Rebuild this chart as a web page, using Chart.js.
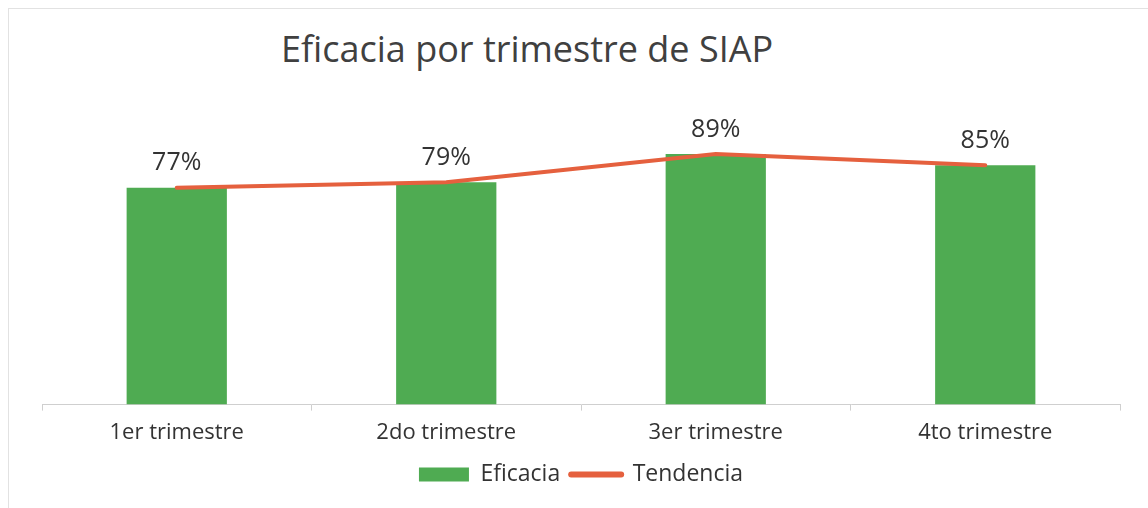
<!DOCTYPE html>
<html>
<head>
<meta charset="utf-8">
<script src="https://cdn.jsdelivr.net/npm/chart.js@4.4.1/dist/chart.umd.min.js"></script>
<style>
  html, body { margin: 0; padding: 0; background: #fff; }
  #wrap { position: relative; width: 1148px; height: 508px; overflow: hidden; }
  #frame { position: absolute; left: 8px; top: 8px; right: -4px; bottom: -4px; border: 1px solid #e2e2e2; }
  #title { position: absolute; left: 281px; top: 24px; font-family: 'Open Sans', sans-serif; font-size: 36px; color: #404040; white-space: nowrap; }
  canvas { position: absolute; left: 0; top: 0; }
</style>
</head>
<body>
<div id="wrap">
  <div id="frame"></div>
  <div id="title">Eficacia por trimestre de SIAP</div>
  <canvas id="chart" width="1148" height="508"></canvas>
</div>
<script>
// data
const quarters = ['1er trimestre', '2do trimestre', '3er trimestre', '4to trimestre'];
const eficacia = [77, 79, 89, 85];
const tendencia = [77, 79, 89, 85];

const green = '#4fab52';
const red = '#e5603e';

// value labels above the bars
const barLabels = {
  id: 'barLabels',
  afterDatasetsDraw(chart) {
    const ctx = chart.ctx;
    const meta = chart.getDatasetMeta(0);
    ctx.save();
    ctx.font = '25px "Open Sans", sans-serif';
    ctx.fillStyle = '#333';
    ctx.textAlign = 'center';
    ctx.textBaseline = 'bottom';
    meta.data.forEach((bar, i) => {
      ctx.fillText(eficacia[i] + '%', bar.x, bar.y - 12);
    });
    ctx.restore();
  }
};

const chart = new Chart(document.getElementById('chart'), {
  data: {
    labels: quarters,
    datasets: [
      { type: 'line', label: 'Tendencia', data: tendencia, borderColor: red, backgroundColor: red,
        borderWidth: 4, pointRadius: 0, tension: 0, borderCapStyle: 'round', order: 0 },
      { type: 'bar', label: 'Eficacia', data: eficacia, backgroundColor: green,
        barPercentage: 0.372, categoryPercentage: 1, order: 1 }
    ]
  },
  options: {
    responsive: false,
    animation: false,
    layout: { padding: { left: 42, right: 28, top: 123, bottom: 12 } },
    scales: {
      x: {
        // shave a few px so the axis sits a bit lower
        afterFit(scale) { scale.height -= 3; },
        grid: { drawOnChartArea: false, drawTicks: true, tickLength: 6, color: '#cfcfcf' },
        border: { color: '#cfcfcf' },
        ticks: { color: '#333', font: { family: 'Open Sans', size: 22 }, padding: 9 }
      },
      y: { display: false, min: 0, max: 100 }
    },
    plugins: {
      legend: {
        position: 'bottom',
        reverse: true,
        labels: {
          usePointStyle: true,
          pointStyleWidth: 50,
          boxHeight: 14,
          color: '#333',
          font: { family: 'Open Sans', size: 23 },
          padding: 11,
          generateLabels(c) {
            return c.data.datasets.map((ds, i) => ({
              text: ds.label,
              datasetIndex: i,
              fillStyle: ds.type === 'bar' ? green : red,
              strokeStyle: ds.type === 'bar' ? green : red,
              lineWidth: ds.type === 'bar' ? 0 : 6,
              lineCap: 'round',
              pointStyle: ds.type === 'bar' ? 'rect' : 'line',
              fontColor: '#333',
              hidden: false
            }));
          }
        }
      },
      tooltip: { enabled: false }
    }
  },
  plugins: [barLabels]
});
</script>
</body>
</html>
